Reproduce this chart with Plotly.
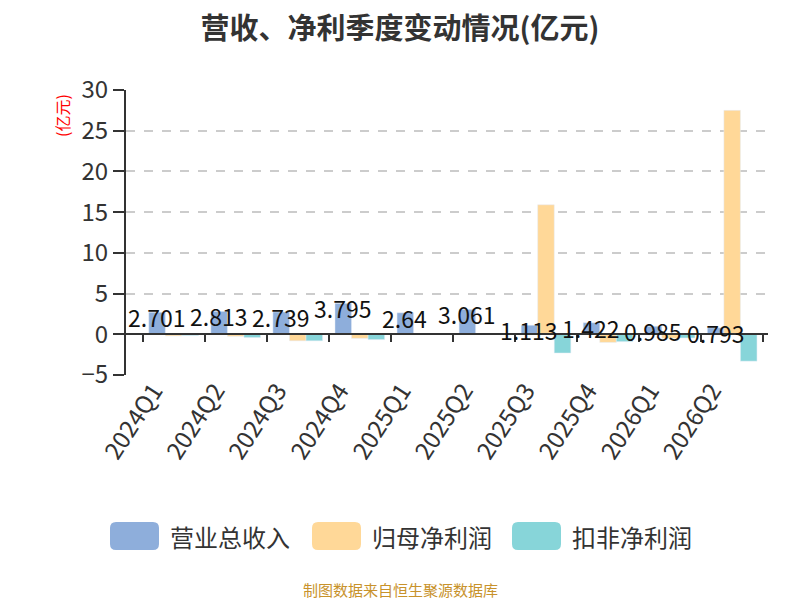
import plotly.graph_objects as go

# --- data ---
quarters = ["2024Q1", "2024Q2", "2024Q3", "2024Q4", "2025Q1",
            "2025Q2", "2025Q3", "2025Q4", "2026Q1", "2026Q2"]
revenue = [2.701, 2.813, 2.739, 3.795, 2.64, 3.061, 1.113, 1.422, 0.985, 0.793]
net_profit = [-0.2, -0.25, -0.8, -0.5, 0.02, 0.03, 15.9, -1.0, -0.5, 27.5]
deducted_profit = [-0.15, -0.4, -0.8, -0.65, 0.1, 0.1, -2.3, -0.9, -0.45, -3.3]

names = ["营业总收入", "归母净利润", "扣非净利润"]
colors = ["#8eaedb", "#ffd898", "#87d5d9"]

y_min, y_max = -5, 30

# page is shown with an 8px body margin, so everything is laid out shifted
OFF = 8
W, H = 800 - OFF, 600 - OFF
L, R, T, B = 126 - OFF, 32, 90 - OFF, 225

bargap = 0.2
cat_px = (W - L - R) / len(quarters)
bar_px = cat_px * (1 - bargap) / 3

fig = go.Figure()
fig.add_trace(go.Bar(x=quarters, y=revenue, name=names[0], marker_color=colors[0]))
fig.add_trace(go.Bar(x=quarters, y=net_profit, name=names[1], marker_color=colors[1]))
fig.add_trace(go.Bar(x=quarters, y=deducted_profit, name=names[2], marker_color=colors[2]))

# invisible trace so the zero-line axis (with boundary ticks) is drawn
fig.add_trace(go.Scatter(x=quarters, y=[None] * len(quarters), xaxis="x2",
                         showlegend=False, hoverinfo="skip"))

zero_pos = (0 - y_min) / (y_max - y_min)


def px_x(p):
    # page pixel -> paper x
    return (p - OFF - L) / (W - L - R)


def px_y(p):
    # page pixel -> paper y
    return (H - B - (p - OFF)) / (H - T - B)


shapes = []
annotations = []

# value labels on revenue bars
for q, v in zip(quarters, revenue):
    annotations.append(dict(x=q, y=v, xref="x", yref="y", text=f"{v:g}",
                            showarrow=False, xanchor="center", yanchor="middle",
                            xshift=-bar_px, yshift=-5,
                            font=dict(size=23, color="#111")))

# --- custom legend (big rounded swatches) ---
legend_x = [110, 312, 512]
for lx, name, col in zip(legend_x, names, colors):
    x0, x1 = px_x(lx), px_x(lx + 49)
    y0, y1 = px_y(522), px_y(550)
    rx = 6 / (W - L - R)
    ry = 6 / (H - T - B)
    path = (f"M{x0+rx},{y0} L{x1-rx},{y0} Q{x1},{y0} {x1},{y0-ry} "
            f"L{x1},{y1+ry} Q{x1},{y1} {x1-rx},{y1} L{x0+rx},{y1} "
            f"Q{x0},{y1} {x0},{y1+ry} L{x0},{y0-ry} Q{x0},{y0} {x0+rx},{y0} Z")
    shapes.append(dict(type="path", xref="paper", yref="paper", path=path,
                       fillcolor=col, line=dict(width=0)))
    annotations.append(dict(x=px_x(lx + 58), y=px_y(536), xref="paper", yref="paper",
                            text=name, showarrow=False, xanchor="left", yanchor="middle",
                            font=dict(size=24, color="#333")))

annotations.append(dict(x=px_x(400), y=px_y(589), xref="paper", yref="paper",
                        text="制图数据来自恒生聚源数据库", showarrow=False,
                        xanchor="center", yanchor="middle",
                        font=dict(size=15, color="#c8922b")))

annotations.append(dict(x=px_x(62), y=px_y(116), xref="paper", yref="paper",
                        text="(亿元)", showarrow=False, textangle=-90,
                        xanchor="center", yanchor="middle",
                        font=dict(size=16, color="#ff0000")))

fig.update_layout(
    width=W, height=H,
    margin=dict(l=L, r=R, t=T, b=B),
    paper_bgcolor="white", plot_bgcolor="white",
    font=dict(family="Noto Sans CJK SC, Noto Sans, sans-serif", color="#333"),
    title=dict(text="<b>营收、净利季度变动情况(亿元)</b>", x=(400 - OFF) / W,
               y=1 - (29 - OFF) / H, xanchor="center", yanchor="middle",
               font=dict(size=29, color="#333")),
    barmode="group", bargap=bargap, bargroupgap=0,
    showlegend=False,
    shapes=shapes, annotations=annotations,
    xaxis=dict(type="category", showline=False, ticks="", tickangle=-57,
               ticklabelshift=-20, ticklabelstandoff=-4,
               tickfont=dict(size=24, color="#333"), showgrid=False),
    xaxis2=dict(type="category", overlaying="x", anchor="free", position=zero_pos,
                matches="x", showline=True, linecolor="#333", linewidth=2,
                ticks="outside", ticklen=7, tickwidth=2, tickcolor="#333",
                tickson="boundaries", showticklabels=False, showgrid=False),
    yaxis=dict(range=[y_min, y_max], dtick=5, showline=True, linecolor="#333",
               linewidth=2, ticks="outside", ticklen=11, tickwidth=2, tickcolor="#333",
               tickfont=dict(size=24, color="#333"),
               showgrid=True, gridcolor="#cccccc", griddash="dash", gridwidth=1.5,
               zeroline=False),
)

fig.write_html("out.html")
